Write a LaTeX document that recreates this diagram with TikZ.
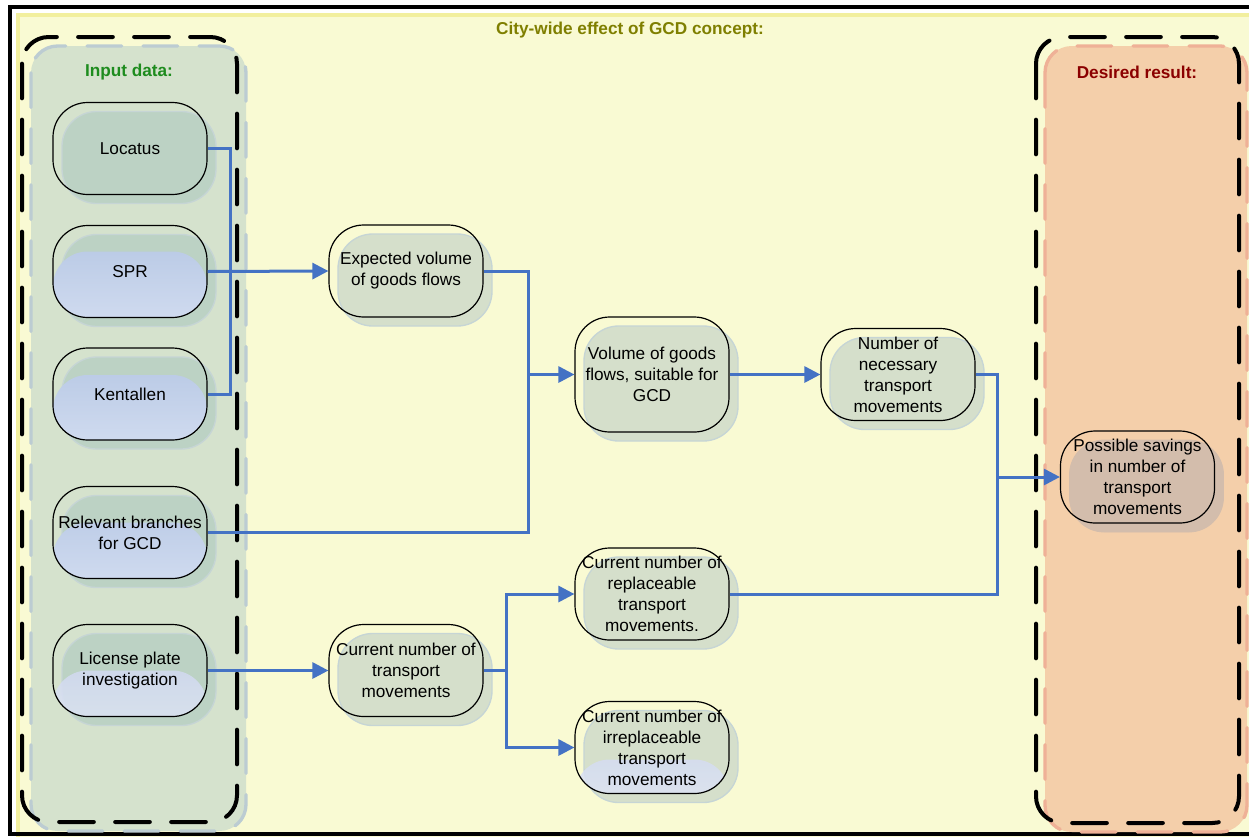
\documentclass[tikz,border=0pt]{standalone}
\usepackage{fontspec}
\setmainfont{Liberation Sans}
\usetikzlibrary{shadows,arrows.meta,calc}
\definecolor{bgyel}{HTML}{F9FAD3}
\definecolor{yelline}{HTML}{F2EF9E}
\definecolor{grpgreen}{HTML}{D5E2CD}
\definecolor{grpgreenedge}{HTML}{BCCCD2}
\definecolor{grppeach}{HTML}{F4CFAA}
\definecolor{grppeachedge}{HTML}{EFB197}
\definecolor{titleolive}{HTML}{7F7F00}
\definecolor{inputgreen}{HTML}{1E8C1E}
\definecolor{resultred}{HTML}{8B0000}
\definecolor{conn}{HTML}{4472C4}
\definecolor{shmid}{HTML}{D5DFCB}
\definecolor{shin}{HTML}{BCD2C4}
\definecolor{shres}{HTML}{D3BDAC}
\definecolor{shedge}{HTML}{C6D5D5}
\definecolor{imgblueA}{HTML}{B4C6E3}
\definecolor{imgblueB}{HTML}{CFDAEF}
\definecolor{imglavA}{HTML}{C8D0EE}
\definecolor{imglavB}{HTML}{DCE3F4}
\tikzset{
  box/.style={draw=black, line width=0.9pt, rounded corners=26pt,
    minimum width=115.5pt, minimum height=69pt, align=center, inner sep=0pt,
    font=\fontsize{12.9}{15.75}\selectfont},
  midbox/.style={box, general shadow={fill=shmid, draw=shedge, line width=1pt,
    shadow xshift=6.75pt, shadow yshift=-6.75pt}},
  inbox/.style={box, general shadow={fill=shin, draw=shedge, line width=1pt,
    shadow xshift=6.75pt, shadow yshift=-6.75pt}},
  resbox/.style={box, general shadow={fill=shres, draw=shres, line width=0.6pt,
    shadow xshift=6.75pt, shadow yshift=-6.75pt}},
  blueimg/.style={path picture={\shade[top color=imgblueA, bottom color=imgblueB]
    ($(path picture bounding box.north west)+(0,#1)$) rectangle (path picture bounding box.south east);}},
  lavimg/.style={path picture={\shade[top color=imglavA, bottom color=imglavB, opacity=0.85]
    ($(path picture bounding box.north west)+(0,#1)$) rectangle (path picture bounding box.south east);}},
  grplabel/.style={font=\bfseries\fontsize{12.9}{15}\selectfont},
  conline/.style={draw=conn, line width=2.25pt},
  conarrow/.style={conline, -{Triangle[length=12pt,width=12pt]}},
  blackdash/.style={draw=black, line width=3pt, dash pattern=on 26pt off 16pt, line cap=round, rounded corners=20pt},
}
\begin{document}
\begin{tikzpicture}[x=0.75pt,y=-0.75pt]
\useasboundingbox (0,0) rectangle (1249,836);
\clip (0,0) rectangle (1249,836);
% background
\fill[white] (0,0) rectangle (1249,836);
\draw[fill=bgyel, draw=yelline, line width=2.5pt] (18,15) rectangle (1270,840);
\draw[line width=3pt] (10,7) rectangle (1300,834);
% groups
\draw[fill=grpgreen, draw=grpgreenedge, line width=2.5pt, dash pattern=on 26pt off 16pt, line cap=round, rounded corners=20pt] (31,46) rectangle (246,831);
\draw[blackdash] (22,37) rectangle (237,822);
\draw[fill=grppeach, draw=grppeachedge, line width=2.5pt, dash pattern=on 26pt off 16pt, line cap=round, rounded corners=20pt] (1045,46) rectangle (1247,832);
\draw[blackdash] (1036,37) rectangle (1239,823);
% labels
\node[grplabel, text=titleolive] (title) at (630,30) {City-wide effect of GCD concept:};
\node[grplabel, text=inputgreen] (inlbl) at (129,72) {Input data:};
\node[grplabel, text=resultred] (reslbl) at (1137,72) {Desired result:};
% input nodes
\node[inbox] (loc) at (130,148.5) {Locatus};
\node[inbox, blueimg=26] (spr) at (130,271.5) {SPR};
\node[inbox, blueimg=27] (ken) at (130,394) {Kentallen};
\node[inbox, blueimg=36] (rel) at (130,532.5) {Relevant branches\\for GCD};
\node[inbox, lavimg=46] (lic) at (130,670.5) {License plate\\investigation};
% middle nodes
\node[midbox] (exp) at (406,271) {Expected volume\\of goods flows};
\node[midbox, minimum height=86.25pt] (vol) at (652,374.5) {Volume of goods\\flows, suitable for\\GCD};
\node[midbox] (num) at (898,374.5) {Number of\\necessary\\transport\\movements};
\node[midbox] (cur) at (406,670.5) {Current number of\\transport\\movements};
\node[midbox] (rep) at (652,594) {Current number of\\replaceable\\transport\\movements.};
\node[midbox, lavimg=58] (irr) at (652,747.5) {Current number of\\irreplaceable\\transport\\movements};
\node[resbox] (pos) at (1137.5,477) {Possible savings\\in number of\\transport\\movements};
% connectors
\coordinate (b1) at (230,271.5);
\draw[conline] (loc.east) -| (b1);
\draw[conline] (ken.east) -| (b1);
\draw[conarrow] (spr.east) -- (exp.west);
\coordinate (b2) at (528,374.5);
\draw[conline] (exp.east) -| (b2);
\draw[conline] (rel.east) -| (b2);
\draw[conarrow] (b2) -- (vol.west);
\draw[conarrow] (vol.east) -- (num.west);
\coordinate (b3) at (997,477);
\draw[conline] (num.east) -| (b3);
\draw[conline] (rep.east) -| (b3);
\draw[conarrow] (b3) -- (pos.west);
\draw[conarrow] (lic.east) -- (cur.west);
\coordinate (b4) at (506,670.5);
\draw[conline] (cur.east) -- (b4);
\draw[conarrow] (b4) |- (rep.west);
\draw[conarrow] (b4) |- (irr.west);
\end{tikzpicture}
\end{document}
